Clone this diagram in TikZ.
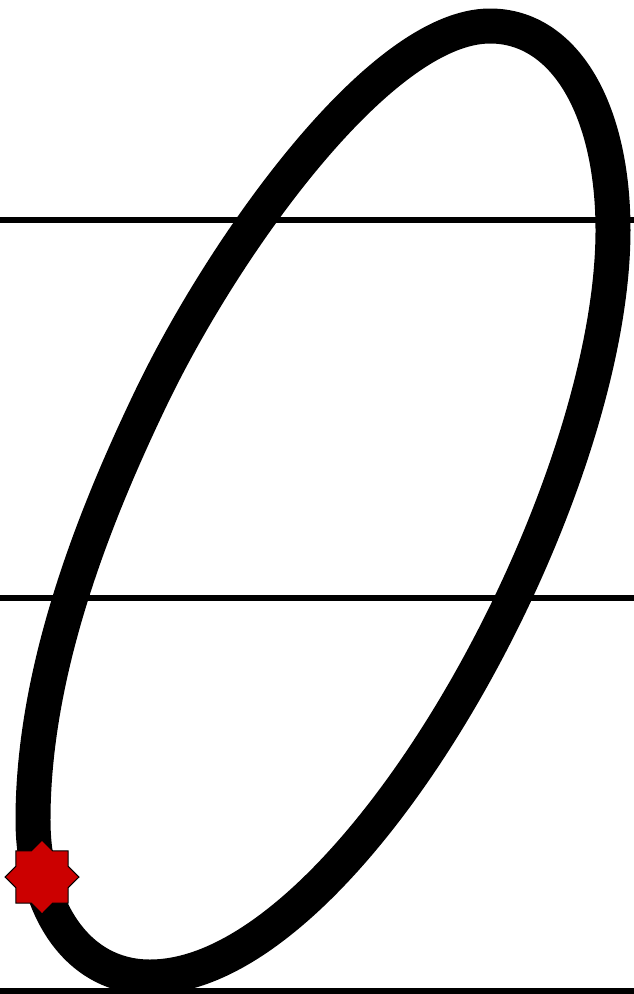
\documentclass[tikz,border=0pt]{standalone}
\usepackage{tikz}
\usetikzlibrary{shapes.geometric}
\definecolor{starRed}{RGB}{204, 0, 0}

\begin{document}
\begin{tikzpicture}[x=0.02cm, y=-0.02cm,
  guide/.style={draw=black, line width=0.12cm},
  pen/.style={draw=black, line width=0.7cm, line join=round},
  startmark/.style={star, star points=8, star point ratio=1.31,
                    minimum size=1.48cm, inner sep=0pt,
                    fill=starRed, draw=black, line width=0.6pt}]

  \fill[white] (0,0) rectangle (634,994);
  \useasboundingbox (0,0) rectangle (634,994);

  % ruled lines
  \draw[guide] (0,220) -- (634,220);
  \draw[guide] (0,598) -- (634,598);
  \draw[guide] (0,991) -- (634,991);

  % the oval
  \coordinate (top) at (490,26);
  \coordinate (right) at (613,230);
  \coordinate (bottom) at (150,977);
  \coordinate (left) at (33,820);
  \coordinate (mid) at (150,400);
  \draw[pen] (top) .. controls (565,26) and (613,110) .. (right)
    .. controls (613,500) and (350,977) .. (bottom)
    .. controls (75,977) and (33,905) .. (left)
    .. controls (33,670) and (94,517) .. (mid)
    .. controls (223,247) and (380,26) .. (top) -- cycle;

  \node[startmark] (start) at (42,877) {};

\end{tikzpicture}
\end{document}
